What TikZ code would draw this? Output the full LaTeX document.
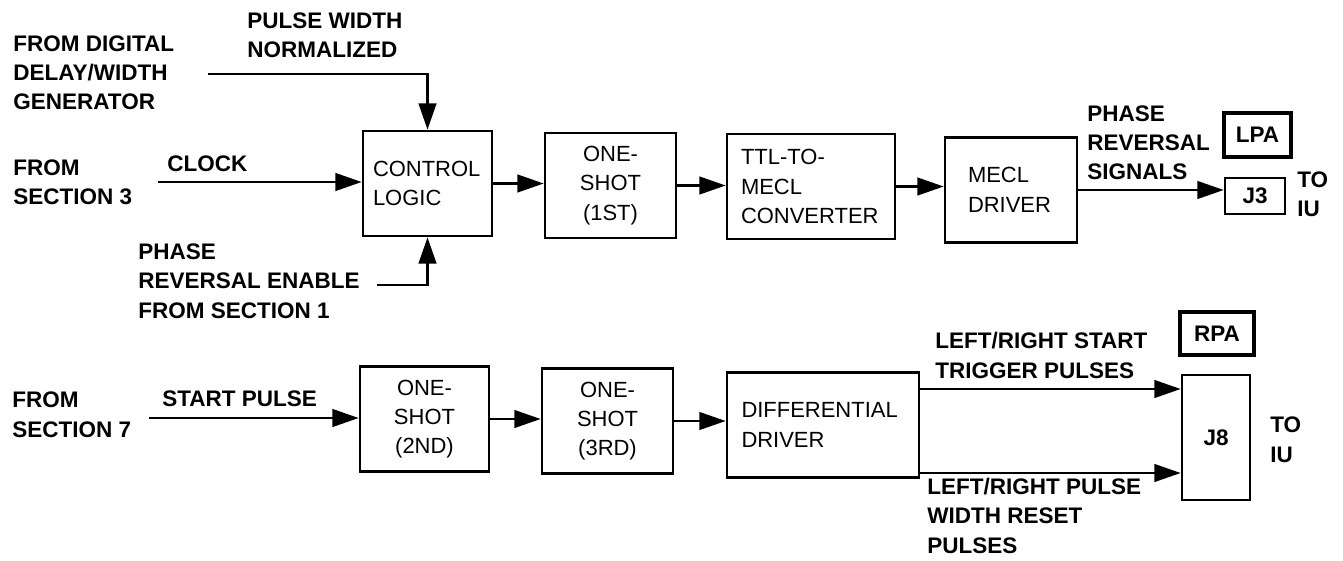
\documentclass[tikz,border=0pt]{standalone}
\usepackage{fontspec}
\setmainfont{Liberation Sans}
\usetikzlibrary{arrows.meta}
\hyphenpenalty=10000
\exhyphenpenalty=10000

\begin{document}
\begin{tikzpicture}[
  x=0.2mm, y=-0.2mm,
  blk/.style={draw,line width=1.5pt,inner sep=0pt,minimum height=21mm,font=\fontsize{12.5}{16.7}\selectfont},
  lbl/.style={anchor=base west,inner sep=0pt,align=left,font=\bfseries\fontsize{12.8}{16.7}\selectfont},
  tag/.style={draw,line width=2.6pt,inner sep=0pt,font=\bfseries\fontsize{12.8}{15}\selectfont},
  arr/.style={-{Triangle[length=15pt,width=10pt]},line width=1.5pt},
]
\useasboundingbox (0,0) rectangle (1343,561);

% upper chain
\node[blk,align=left,text width=21.8mm,inner xsep=2mm] (ctrl) at (427.5,183.5) {CONTROL\\LOGIC};
\node[blk,minimum width=26.2mm,align=center] (os1) at (610.5,185.5) {ONE-\\SHOT\\(1ST)};
\node[blk,align=left,text width=28mm,inner xsep=2.8mm] (ttl) at (811,186.5) {TTL-TO-\\MECL\\CONVERTER};
\node[blk,align=left,text width=17.2mm,inner xsep=4.6mm] (mecl) at (1011,190) {MECL\\DRIVER};
\node[tag,line width=1.5pt,minimum width=12mm,minimum height=7.2mm] (j3) at (1255,196) {J3};
\node[tag,minimum width=13.4mm,minimum height=8.8mm] (lpa) at (1257.5,135) {LPA};

% lower chain
\node[blk,minimum width=25.8mm,align=center] (os2) at (424.5,419) {ONE-\\SHOT\\(2ND)};
\node[blk,minimum width=26.2mm,align=center] (os3) at (607.5,421) {ONE-\\SHOT\\(3RD)};
\node[blk,align=left,text width=32.6mm,inner xsep=2.9mm] (diff) at (823,425) {DIFFERENTIAL\\DRIVER};
\node[tag,line width=1.5pt,minimum width=13.6mm,minimum height=25mm] (j8) at (1216,437.5) {J8};
\node[tag,minimum width=14.8mm,minimum height=8.6mm] (rpa) at (1217,333.5) {RPA};

% labels (placed at baseline of last line)
\node[lbl] (pwlbl) at (247,58) {PULSE WIDTH\\NORMALIZED};
\node[lbl] (genlbl) at (13,110) {FROM DIGITAL\\DELAY/WIDTH\\GENERATOR};
\node[lbl] (clklbl) at (167,172) {CLOCK};
\node[lbl] (sec3lbl) at (13,205) {FROM\\SECTION 3};
\node[lbl] (prelbl) at (138,318) {PHASE\\REVERSAL ENABLE\\FROM SECTION 1};
\node[lbl] (prslbl) at (1087,180) {PHASE\\REVERSAL\\SIGNALS};
\node[lbl] (iu1lbl) at (1297,217) {TO\\IU};
\node[lbl] (sec7lbl) at (12,437) {FROM\\SECTION 7};
\node[lbl] (splbl) at (162,406) {START PULSE};
\node[lbl] (trglbl) at (935,378) {LEFT/RIGHT START\\TRIGGER PULSES};
\node[lbl] (rstlbl) at (927,553) {LEFT/RIGHT PULSE\\WIDTH RESET\\PULSES};
\node[lbl] (iu2lbl) at (1270,462) {TO\\IU};

% free ends
\coordinate (pwin) at (208,74);
\coordinate (clkin) at (158,182);
\coordinate (prin) at (377,285);
\coordinate (spin) at (149,418);
\coordinate (trgin) at (1182,389);
\coordinate (rstin) at (1182,473);

\draw[arr] (pwin) -| (ctrl.north);
\draw[arr] (clkin) -- (clkin -| ctrl.west);
\draw[arr] (prin) -| (ctrl.south);
\draw[arr] (ctrl.east) -- (ctrl.east -| os1.west);
\draw[arr] (os1.east) -- (os1.east -| ttl.west);
\draw[arr] (ttl.east) -- (ttl.east -| mecl.west);
\draw[arr] (mecl.east) -- (mecl.east -| j3.west);
\draw[arr] (spin) -- (spin -| os2.west);
\draw[arr] (os2.east) -- (os2.east -| os3.west);
\draw[arr] (os3.east) -- (os3.east -| diff.west);
\draw[arr] (diff.east |- trgin) -- (trgin -| j8.west);
\draw[arr] (diff.east |- rstin) -- (rstin -| j8.west);
\end{tikzpicture}
\end{document}
